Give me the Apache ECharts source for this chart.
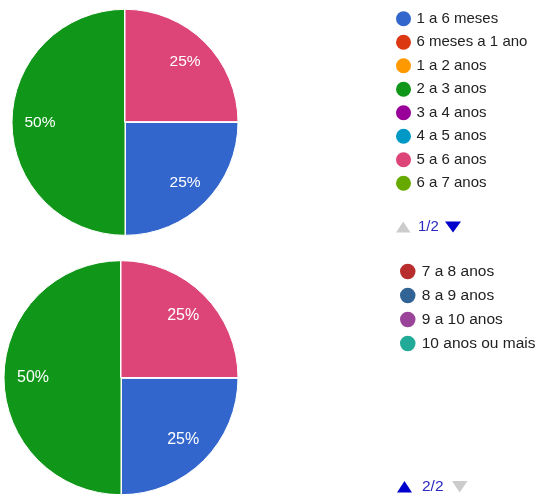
<!DOCTYPE html>
<html>
<head>
<meta charset="utf-8">
<script src="https://cdn.jsdelivr.net/npm/echarts@6/dist/echarts.min.js"></script>
<style>
  html, body { margin: 0; padding: 0; background: #fff; }
  #chart { width: 540px; height: 494px; }
</style>
</head>
<body>
<div id="chart"></div>
<script>
const categories = ['1 a 6 meses', '6 meses a 1 ano', '1 a 2 anos', '2 a 3 anos', '3 a 4 anos', '4 a 5 anos', '5 a 6 anos', '6 a 7 anos', '7 a 8 anos', '8 a 9 anos', '9 a 10 anos', '10 anos ou mais'];
const colors = ['#3366cc', '#dc3912', '#ff9900', '#109618', '#990099', '#0099c6', '#dd4477', '#66aa00', '#b82e2e', '#316395', '#994499', '#22aa99'];
const valuesTop = [1, 0, 0, 2, 0, 0, 1, 0, 0, 0, 0, 0];
const valuesBottom = [1, 0, 0, 2, 0, 0, 1, 0, 0, 0, 0, 0];
const legendPage1 = categories.slice(0, 8);
const legendPage2 = categories.slice(8);
const pageLabel1 = '1/2';
const pageLabel2 = '2/2';

const FONT = "'Liberation Sans', Arial, sans-serif";
const toData = vals => categories.map((c, i) => ({ name: c, value: vals[i], itemStyle: { color: colors[i] } }));
const labelFmt = p => p.value ? Math.round(p.percent) + '%' : '';

function pieSeries(vals, center, r, fs) {
  return [
    {
      type: 'pie', center: center, radius: [0, r], startAngle: 0, clockwise: true,
      data: toData(vals), label: { show: false }, labelLine: { show: false },
      itemStyle: { borderColor: '#fff', borderWidth: 1 }, silent: true, animation: false
    },
    {
      type: 'pie', center: center, radius: [Math.round(r * 0.45), r], startAngle: 0, clockwise: true,
      data: toData(vals).map(d => Object.assign({}, d, { itemStyle: { color: 'rgba(0,0,0,0)' } })),
      label: { show: true, position: 'inside', formatter: labelFmt, color: '#fff', fontSize: fs, fontFamily: FONT },
      labelLine: { show: false }, itemStyle: { borderWidth: 0 }, silent: true, animation: false,
      emphasis: { disabled: true }
    }
  ];
}

const chart = echarts.init(document.getElementById('chart'), null, { renderer: 'canvas' });
chart.setOption({
  backgroundColor: '#fff',
  animation: false,
  color: colors,
  legend: [
    {
      data: legendPage1, orient: 'vertical', left: 396, top: 11.3, padding: 0, icon: 'circle',
      itemWidth: 16, itemHeight: 15, itemGap: 8.5, selectedMode: false,
      itemStyle: { borderWidth: 0 },
      textStyle: { fontSize: 15, color: '#222', fontFamily: FONT }
    },
    {
      data: legendPage2, orient: 'vertical', left: 400, top: 263.5, padding: 0, icon: 'circle',
      itemWidth: 18, itemHeight: 15.5, itemGap: 8.0, selectedMode: false,
      itemStyle: { borderWidth: 0 },
      textStyle: { fontSize: 15.5, color: '#222', fontFamily: FONT }
    }
  ],
  graphic: [
    { type: 'polygon', shape: { points: [[396, 232.5], [410.5, 232.5], [403.2, 221.5]] }, style: { fill: '#cccccc' } },
    { type: 'text', x: 418, y: 227, style: { text: pageLabel1, fill: '#2a2ac0', font: '15px ' + FONT, textVerticalAlign: 'middle' } },
    { type: 'polygon', shape: { points: [[445, 221.5], [461, 221.5], [453, 232.5]] }, style: { fill: '#0000cc' } },
    { type: 'polygon', shape: { points: [[397, 492.5], [412, 492.5], [404.5, 481]] }, style: { fill: '#0000cc' } },
    { type: 'text', x: 422, y: 487, style: { text: pageLabel2, fill: '#2a2ac0', font: '15.5px ' + FONT, textVerticalAlign: 'middle' } },
    { type: 'polygon', shape: { points: [[452, 481], [467.5, 481], [459.7, 492.5]] }, style: { fill: '#cccccc' } }
  ],
  series: [].concat(pieSeries(valuesTop, [125, 122.3], 113, 15.5), pieSeries(valuesBottom, [121, 377.7], 117, 16))
});
</script>
</body>
</html>
